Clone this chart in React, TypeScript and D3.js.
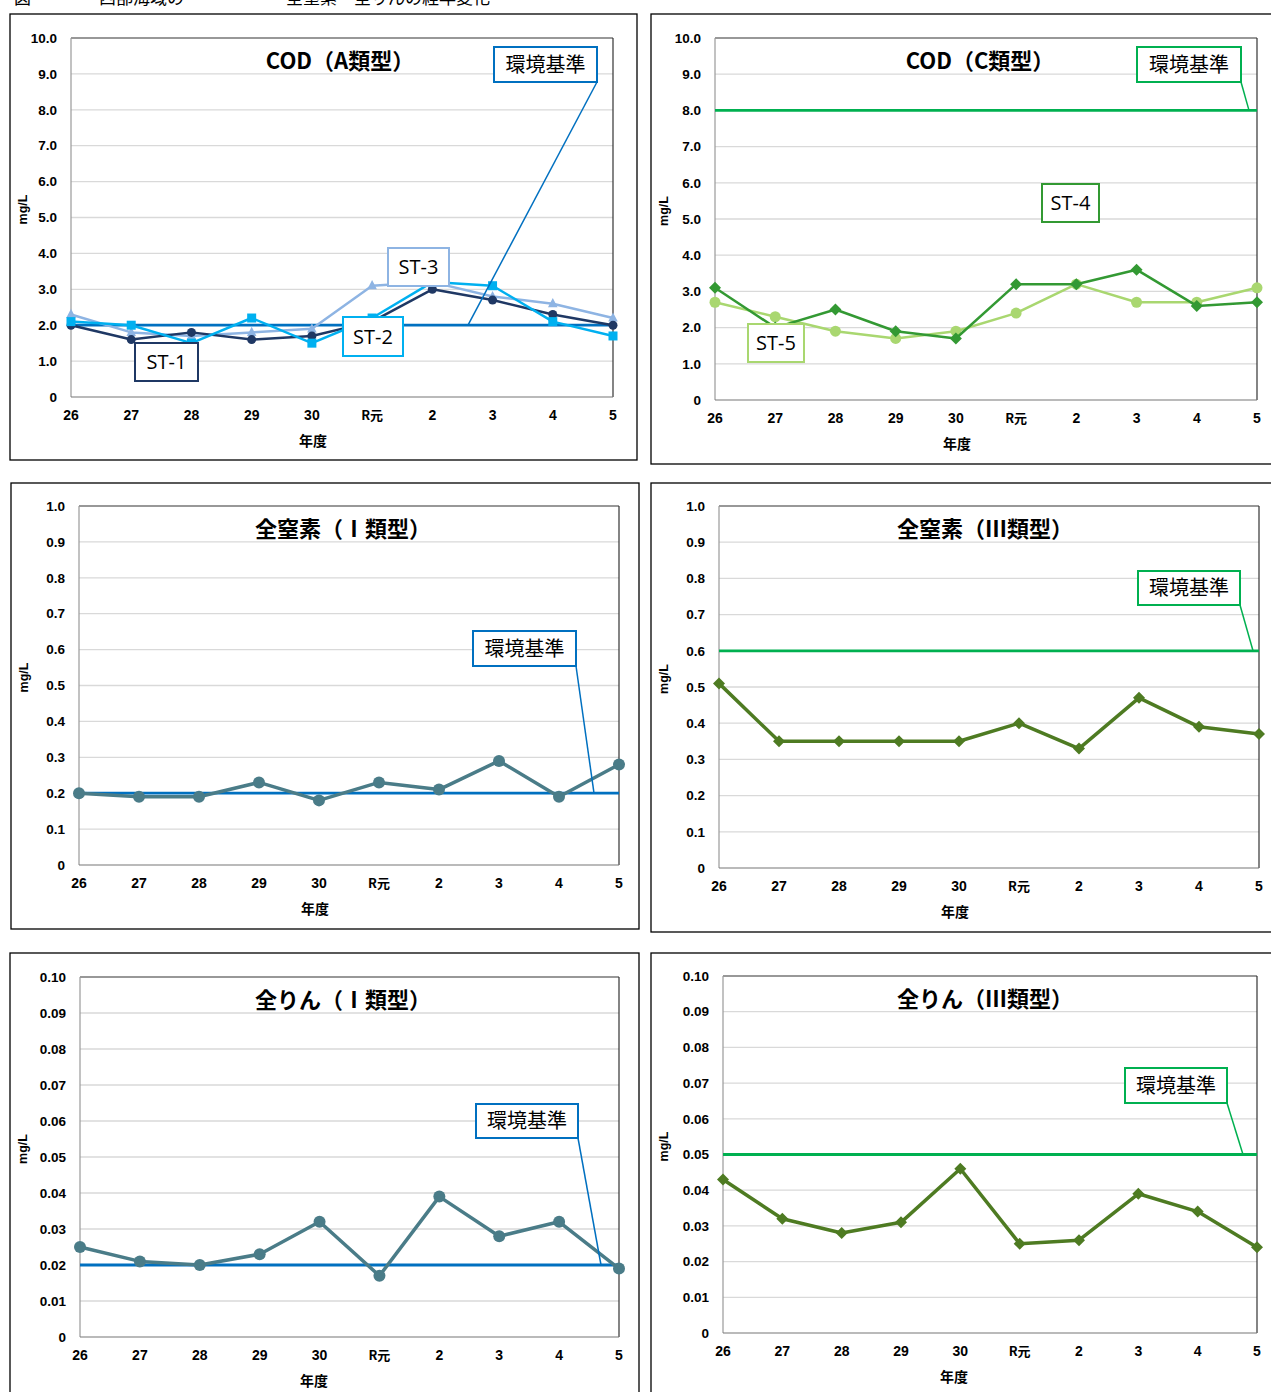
import * as d3 from "d3"

const years = ["26", "27", "28", "29", "30", "R元", "2", "3", "4", "5"]

// COD (A類型) - ST-1, ST-2, ST-3
const codA_st1 = [2.0, 1.6, 1.8, 1.6, 1.7, 2.1, 3.0, 2.7, 2.3, 2.0]
const codA_st2 = [2.1, 2.0, 1.5, 2.2, 1.5, 2.2, 3.2, 3.1, 2.1, 1.7]
const codA_st3 = [2.3, 1.8, 1.7, 1.8, 1.9, 3.1, 3.2, 2.8, 2.6, 2.2]
// COD (C類型) - ST-4, ST-5
const codC_st4 = [3.1, 2.0, 2.5, 1.9, 1.7, 3.2, 3.2, 3.6, 2.6, 2.7]
const codC_st5 = [2.7, 2.3, 1.9, 1.7, 1.9, 2.4, 3.2, 2.7, 2.7, 3.1]
// 全窒素
const tn1 = [0.2, 0.19, 0.19, 0.23, 0.18, 0.23, 0.21, 0.29, 0.19, 0.28]
const tn3 = [0.51, 0.35, 0.35, 0.35, 0.35, 0.4, 0.33, 0.47, 0.39, 0.37]
// 全りん
const tp1 = [0.025, 0.021, 0.02, 0.023, 0.032, 0.017, 0.039, 0.028, 0.032, 0.019]
const tp3 = [0.043, 0.032, 0.028, 0.031, 0.046, 0.025, 0.026, 0.039, 0.034, 0.024]

// 環境基準
const stdCodA = 2
const stdCodC = 8
const stdTn1 = 0.2
const stdTn3 = 0.6
const stdTp1 = 0.02
const stdTp3 = 0.05

const W = 1271
const H = 1392
const tickFont = "'Liberation Sans Narrow', 'Arial Narrow', 'Liberation Sans', sans-serif"
const jpFont = "'Noto Sans CJK JP', sans-serif"
const stFont = "'Open Sans', 'Noto Sans', sans-serif"

type Series = { values: number[]; color: string; marker: "circle" | "square" | "triangle" | "diamond"; size: number; width: number }
type Label = { text: string; color: string; x: number; y: number; w: number; h: number }
type PanelCfg = {
  box: [number, number, number, number]
  plot: [number, number, number, number]
  yMax: number
  yStep: number
  yDigits: number
  title: string
  titleX: number
  xTitleX: number
  std: number
  stdColor: string
  stdBox: [number, number, number, number]
  leaderX: number
  series: Series[]
  labels: Label[]
}

const BLUE = "#0070c0"
const GREEN = "#00b050"

const panels: PanelCfg[] = [
  {
    box: [10, 14, 627, 446], plot: [71, 38, 613, 397], yMax: 10, yStep: 1, yDigits: 1,
    title: "COD（A類型）", titleX: 340, xTitleX: 313, std: stdCodA, stdColor: BLUE,
    stdBox: [494, 47, 103, 35], leaderX: 468,
    series: [
      { values: codA_st3, color: "#8eb4e3", marker: "triangle", size: 8, width: 2.5 },
      { values: codA_st1, color: "#1f3864", marker: "circle", size: 4.5, width: 2.5 },
      { values: codA_st2, color: "#00b0f0", marker: "square", size: 9, width: 2.5 },
    ],
    labels: [
      { text: "ST-1", color: "#1f3864", x: 135, y: 343, w: 63, h: 38 },
      { text: "ST-2", color: "#00b0f0", x: 343, y: 317, w: 60, h: 39 },
      { text: "ST-3", color: "#8eb4e3", x: 388, y: 248, w: 61, h: 38 },
    ],
  },
  {
    box: [651, 14, 630, 450], plot: [715, 38, 1257, 400], yMax: 10, yStep: 1, yDigits: 1,
    title: "COD（C類型）", titleX: 980, xTitleX: 957, std: stdCodC, stdColor: GREEN,
    stdBox: [1137, 47, 104, 35], leaderX: 1249,
    series: [
      { values: codC_st5, color: "#a9d770", marker: "circle", size: 5.5, width: 2.5 },
      { values: codC_st4, color: "#339933", marker: "diamond", size: 6, width: 2.5 },
    ],
    labels: [
      { text: "ST-4", color: "#339933", x: 1042, y: 184, w: 57, h: 38 },
      { text: "ST-5", color: "#a9d770", x: 748, y: 324, w: 56, h: 38 },
    ],
  },
  {
    box: [11, 483, 628, 446], plot: [79, 506, 619, 865], yMax: 1, yStep: 0.1, yDigits: 1,
    title: "全窒素（Ⅰ類型）", titleX: 343, xTitleX: 315, std: stdTn1, stdColor: BLUE,
    stdBox: [473, 631, 103, 35], leaderX: 594,
    series: [{ values: tn1, color: "#4a7c88", marker: "circle", size: 6, width: 3.5 }],
    labels: [],
  },
  {
    box: [651, 483, 630, 449], plot: [719, 506, 1259, 868], yMax: 1, yStep: 0.1, yDigits: 1,
    title: "全窒素（Ⅲ類型）", titleX: 985, xTitleX: 955, std: stdTn3, stdColor: GREEN,
    stdBox: [1138, 571, 102, 34], leaderX: 1253,
    series: [{ values: tn3, color: "#4e7b22", marker: "diamond", size: 6, width: 3.5 }],
    labels: [],
  },
  {
    box: [10, 953, 629, 450], plot: [80, 977, 619, 1337], yMax: 0.1, yStep: 0.01, yDigits: 2,
    title: "全りん（Ⅰ類型）", titleX: 343, xTitleX: 314, std: stdTp1, stdColor: BLUE,
    stdBox: [476, 1104, 102, 34], leaderX: 601,
    series: [{ values: tp1, color: "#4a7c88", marker: "circle", size: 6, width: 3.5 }],
    labels: [],
  },
  {
    box: [651, 953, 630, 450], plot: [723, 976, 1257, 1333], yMax: 0.1, yStep: 0.01, yDigits: 2,
    title: "全りん（Ⅲ類型）", titleX: 985, xTitleX: 954, std: stdTp3, stdColor: GREEN,
    stdBox: [1125, 1068, 102, 35], leaderX: 1243,
    series: [{ values: tp3, color: "#4e7b22", marker: "diamond", size: 6, width: 3.5 }],
    labels: [],
  },
]

function Marker({ x, y, s }: { x: number; y: number; s: Series }) {
  const r = s.size
  if (s.marker === "circle") return <circle cx={x} cy={y} r={r} fill={s.color} />
  if (s.marker === "square") return <rect x={x - r / 2} y={y - r / 2} width={r} height={r} fill={s.color} />
  if (s.marker === "triangle")
    return <path d={`M${x},${y - r * 0.7}L${x + r * 0.6},${y + r * 0.45}L${x - r * 0.6},${y + r * 0.45}Z`} fill={s.color} />
  return <path d={`M${x},${y - r}L${x + r},${y}L${x},${y + r}L${x - r},${y}Z`} fill={s.color} />
}

function Panel({ cfg }: { cfg: PanelCfg }) {
  const [l, t, r, b] = cfg.plot
  const x = d3.scalePoint<string>().domain(years).range([l, r])
  const y = d3.scaleLinear().domain([0, cfg.yMax]).range([b, t])
  const ticks = d3.range(0, Math.round(cfg.yMax / cfg.yStep) + 1).map(i => i * cfg.yStep)
  const fmt = (v: number) => (v === 0 ? "0" : d3.format(`.${cfg.yDigits}f`)(v))
  const line = d3.line<number>().x((_, i) => x(years[i])!).y(v => y(v))
  const [bx, by, bw, bh] = cfg.stdBox
  const ys = y(cfg.std)
  return (
    <g>
      <rect x={cfg.box[0]} y={cfg.box[1]} width={cfg.box[2]} height={cfg.box[3]} fill="#fff" stroke="#000" strokeWidth={1.3} />
      {ticks.map(v => (
        <g key={v}>
          {v > 0 && v < cfg.yMax - 1e-9 && <line x1={l} x2={r} y1={y(v)} y2={y(v)} stroke="#d9d9d9" strokeWidth={1.3} />}
          <text x={l - 14} y={y(v)} dy="0.35em" textAnchor="end" fontFamily={tickFont} fontWeight="bold" fontSize={13.5} fill="#000">{fmt(v)}</text>
        </g>
      ))}
      <line x1={l} x2={r} y1={t} y2={t} stroke="#333" strokeWidth={1.2} />
      <line x1={r} x2={r} y1={t} y2={b} stroke="#333" strokeWidth={1.2} />
      <line x1={l} x2={l} y1={t} y2={b} stroke="#999" strokeWidth={1.2} />
      <line x1={l} x2={r} y1={b} y2={b} stroke="#777" strokeWidth={1.2} />
      {years.map(c => (
        <text key={c} x={x(c)} y={b + 23} textAnchor="middle" fontFamily={c === "R元" ? jpFont : tickFont} fontWeight="bold" fontSize={c === "R元" ? 13 : 14} fill="#000">{c}</text>
      ))}
      <text x={cfg.xTitleX} y={b + 49} textAnchor="middle" fontFamily={jpFont} fontWeight="bold" fontSize={14} fill="#000">年度</text>
      <text transform={`translate(${cfg.box[0] + 17},${(t + b) / 2 - 8}) rotate(-90)`} textAnchor="middle" fontFamily={tickFont} fontWeight="bold" fontSize={12.5} fill="#000">mg/L</text>
      <text x={cfg.titleX} y={t + 31} textAnchor="middle" fontFamily={jpFont} fontWeight="bold" fontSize={22} fill="#000">{cfg.title}</text>
      <line x1={l} x2={r} y1={ys} y2={ys} stroke={cfg.stdColor} strokeWidth={2.8} />
      {cfg.series.map((s, si) => (
        <g key={si}>
          <path d={line(s.values) ?? ""} fill="none" stroke={s.color} strokeWidth={s.width} strokeLinejoin="round" />
          {s.values.map((v, i) => <Marker key={i} x={x(years[i])!} y={y(v)} s={s} />)}
        </g>
      ))}
      <line x1={bx + bw} y1={by + bh} x2={cfg.leaderX} y2={ys} stroke={cfg.stdColor} strokeWidth={1.5} />
      <rect x={bx} y={by} width={bw} height={bh} fill="#fff" stroke={cfg.stdColor} strokeWidth={2} />
      <text x={bx + bw / 2} y={by + bh / 2} dy="0.36em" textAnchor="middle" fontFamily={jpFont} fontSize={20} fill="#000">環境基準</text>
      {cfg.labels.map(lb => (
        <g key={lb.text}>
          <rect x={lb.x} y={lb.y} width={lb.w} height={lb.h} fill="#fff" stroke={lb.color} strokeWidth={2} />
          <text x={lb.x + lb.w / 2} y={lb.y + lb.h / 2} dy="0.36em" textAnchor="middle" fontFamily={stFont} fontSize={20} fill="#000">{lb.text}</text>
        </g>
      ))}
    </g>
  )
}

export default function App() {
  return (
    <svg width={W} height={H} viewBox={`0 0 ${W} ${H}`} style={{ position: "absolute", left: 0, top: 0, background: "#fff" }}>
      {/* figure caption, cut off at the top edge as in the source page */}
      <text x={14} y={4} fontFamily={jpFont} fontSize={17} fill="#000">図　　　　西部海域の　　　　　　全窒素・全りんの経年変化</text>
      {panels.map((p, i) => <Panel key={i} cfg={p} />)}
    </svg>
  )
}
